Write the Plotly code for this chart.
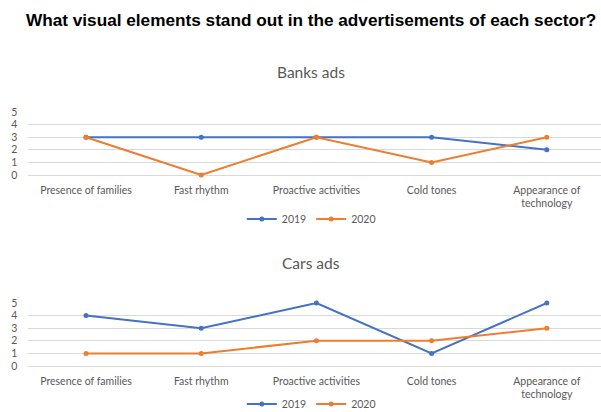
import plotly.graph_objects as go

categories = ["Presence of families", "Fast rhythm", "Proactive activities", "Cold tones", "Appearance of<br>technology"]
years = ["2019", "2020"]
banks_2019 = [3, 3, 3, 3, 2]
banks_2020 = [3, 0, 3, 1, 3]
cars_2019 = [4, 3, 5, 1, 5]
cars_2020 = [1, 1, 2, 2, 3]
y_ticks = [0, 1, 2, 3, 4, 5]

W, H = 601, 412
BLUE = "#4472C4"
ORANGE = "#ED7D31"
GRID = "#D9D9D9"
TXT = "#595959"
FONT = "Lato"

def ydom(top_px, bottom_px):
    return [1 - bottom_px / H, 1 - top_px / H]

x_left = 28.4
step = 115.2
x_right_units = -0.5 + (W - x_left) / step

fig = go.Figure()
panels = [
    ("x", "y", banks_2019, banks_2020, "legend"),
    ("x2", "y2", cars_2019, cars_2020, "legend2"),
]
for xa, ya, s19, s20, lg in panels:
    for name, vals, col in [(years[0], s19, BLUE), (years[1], s20, ORANGE)]:
        fig.add_trace(go.Scatter(
            x=list(range(len(categories))), y=vals, name=name, mode="lines+markers",
            line=dict(color=col, width=2), marker=dict(color=col, size=5),
            xaxis=xa, yaxis=ya, legend=lg, cliponaxis=False,
        ))

xcommon = dict(
    range=[-0.5, x_right_units], tickmode="array", tickvals=list(range(len(categories))),
    ticktext=categories, showgrid=False, zeroline=False, showline=False,
    tickfont=dict(family=FONT, size=10.5, color=TXT), ticks="outside", ticklen=5,
    tickcolor="rgba(0,0,0,0)", fixedrange=True,
)
ycommon = dict(
    range=[0, 5], tickvals=y_ticks, showgrid=True, gridcolor=GRID, gridwidth=1,
    zeroline=True, zerolinecolor=GRID, zerolinewidth=1, showline=False,
    tickfont=dict(family=FONT, size=10.5, color=TXT), ticks="outside", ticklen=8,
    tickcolor="rgba(0,0,0,0)", fixedrange=True,
)

legcommon = dict(orientation="h", x=0.518, xanchor="center", yanchor="middle",
                 font=dict(family=FONT, size=10.5, color=TXT), bgcolor="rgba(0,0,0,0)",
                 itemwidth=30, tracegroupgap=0)

fig.update_layout(
    width=W, height=H, margin=dict(l=0, r=0, t=0, b=0, autoexpand=False),
    paper_bgcolor="white", plot_bgcolor="white",
    xaxis=dict(domain=[x_left / W, 1], anchor="y", **xcommon),
    yaxis=dict(domain=ydom(112, 175), anchor="x", **ycommon),
    xaxis2=dict(domain=[x_left / W, 1], anchor="y2", **xcommon),
    yaxis2=dict(domain=ydom(303, 366), anchor="x2", **ycommon),
    legend=dict(y=1 - 219 / H, **legcommon),
    legend2=dict(y=1 - 404 / H, **legcommon),
    showlegend=True,
    annotations=[
        dict(text="<b>What visual elements stand out in the advertisements of each sector?</b>",
             x=311 / W, y=1 - 20 / H, xref="paper", yref="paper", showarrow=False,
             xanchor="center", yanchor="middle",
             font=dict(family="Liberation Sans", size=17.2, color="black")),
        dict(text="Banks ads", x=311 / W, y=1 - 72 / H, xref="paper", yref="paper",
             showarrow=False, xanchor="center", yanchor="middle",
             font=dict(family=FONT, size=15.5, color=TXT)),
        dict(text="Cars ads", x=311 / W, y=1 - 263 / H, xref="paper", yref="paper",
             showarrow=False, xanchor="center", yanchor="middle",
             font=dict(family=FONT, size=15.5, color=TXT)),
    ],
)

fig.write_html("out.html")
